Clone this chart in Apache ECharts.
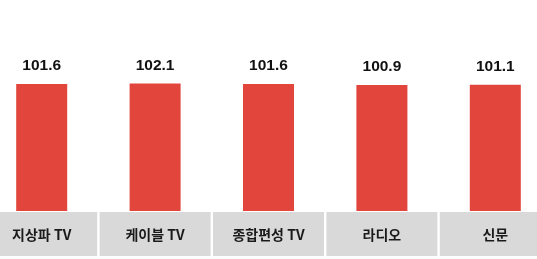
<!DOCTYPE html>
<html>
<head>
<meta charset="utf-8">
<script src="https://cdn.jsdelivr.net/npm/echarts@6/dist/echarts.min.js"></script>
<style>
html,body{margin:0;padding:0;background:#fff;}
#c{width:537px;height:259px;}
</style>
</head>
<body>
<div id="c"></div>
<script>
const categories = ['지상파 TV', '케이블 TV', '종합편성 TV', '라디오', '신문'];
const values = [101.6, 102.1, 101.6, 100.9, 101.1];

const chart = echarts.init(document.getElementById('c'), null, {renderer: 'canvas'});
chart.setOption({
  animation: false,
  backgroundColor: '#ffffff',
  grid: {left: -15, right: -15, top: 61, bottom: 48, outerBoundsMode: 'none'},
  xAxis: {
    type: 'category',
    data: categories,
    axisLine: {show: false},
    axisTick: {show: false},
    axisLabel: {
      interval: 0,
      margin: 1,
      verticalAlign: 'top',
      width: 111,
      height: 44,
      lineHeight: 46,
      overflow: 'none',
      backgroundColor: '#d9d9d9',
      color: '#1a1a1a',
      fontSize: 14,
      fontWeight: 'bold',
      fontFamily: '"Noto Sans CJK KR", sans-serif'
    }
  },
  yAxis: {
    type: 'value',
    min: 0,
    max: 120,
    show: false,
    splitLine: {show: false}
  },
  series: [{
    type: 'bar',
    data: values,
    barWidth: 51,
    itemStyle: {color: '#e1453b'},
    label: {
      show: true,
      position: 'top',
      distance: 10,
      color: '#111',
      fontSize: 15.5,
      fontWeight: 'bold',
      fontFamily: '"Liberation Sans", Arial, sans-serif',
      formatter: p => p.value.toFixed(1)
    }
  }]
});
</script>
</body>
</html>
